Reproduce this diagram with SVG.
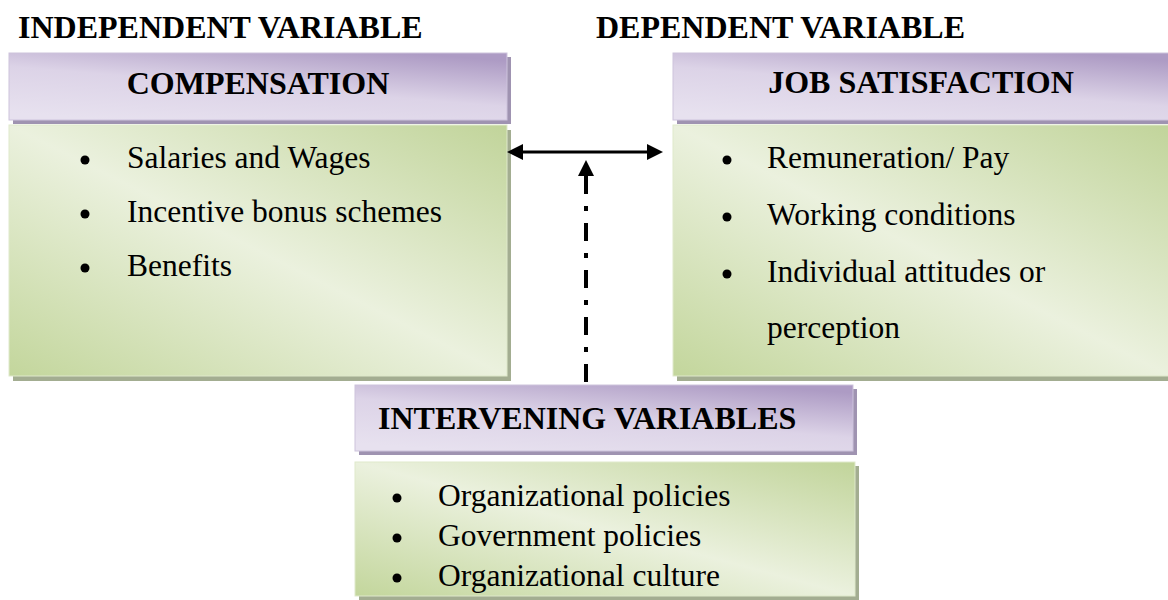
<svg xmlns="http://www.w3.org/2000/svg" width="1168" height="600" viewBox="0 0 1168 600">
  <style>
    .lbl { font-family: "Liberation Serif", "Times New Roman", serif; font-weight: bold; font-size: 32px; fill: #000; }
    .hd { font-family: "Liberation Serif", "Times New Roman", serif; font-weight: bold; font-size: 32px; fill: #000; }
    .it { font-family: "Liberation Serif", "Times New Roman", serif; font-size: 31.5px; fill: #000; }
    .hdr { fill: url(#gHdr); stroke: #cdc3dc; stroke-width: 1; }
    .hdrSh { fill: #9f93b1; }
    .body { fill: url(#gBody); stroke: #dfe9cb; stroke-width: 1; }
    .bodySh { fill: #a3ad91; }
    .dot { fill: #000; }
    .conn { stroke: #000; fill: none; }
  </style>
  <defs>
    <linearGradient id="gHdr" x1="0.2" y1="1" x2="0.8" y2="0">
      <stop offset="0" stop-color="#e7e1ef"/>
      <stop offset="0.5" stop-color="#dcd3e7"/>
      <stop offset="1" stop-color="#ad9bc4"/>
    </linearGradient>
    <linearGradient id="gBody" x1="1" y1="0" x2="0" y2="1">
      <stop offset="0" stop-color="#c1d49a"/>
      <stop offset="0.5" stop-color="#ebf1de"/>
      <stop offset="1" stop-color="#c3d69c"/>
    </linearGradient>
    <!-- arrowhead anchored at its base, tip 16px beyond the path end -->
    <marker id="head" viewBox="0 0 16 16" refX="0" refY="8" markerWidth="16" markerHeight="16" markerUnits="userSpaceOnUse" orient="auto-start-reverse">
      <path d="M0 0 L16 8 L0 16 Z" fill="#000"/>
    </marker>
  </defs>

  <!-- column labels -->
  <text class="lbl" x="18" y="38">INDEPENDENT VARIABLE</text>
  <text class="lbl" x="596" y="38">DEPENDENT VARIABLE</text>

  <!-- independent variable -->
  <g id="compensation">
    <rect class="hdrSh" x="13" y="57" width="498" height="67"/>
    <rect class="hdr" x="9" y="53" width="498" height="67"/>
    <text class="hd" x="258" y="94" text-anchor="middle">COMPENSATION</text>
    <rect class="bodySh" x="13" y="130" width="498" height="251"/>
    <rect class="body" x="9" y="125" width="498" height="251"/>
    <circle class="dot" cx="85" cy="160" r="4.5"/>
    <text class="it" x="127" y="168">Salaries and Wages</text>
    <circle class="dot" cx="85" cy="214" r="4.5"/>
    <text class="it" x="127" y="222">Incentive bonus schemes</text>
    <circle class="dot" cx="85" cy="268" r="4.5"/>
    <text class="it" x="127" y="276">Benefits</text>
  </g>

  <!-- dependent variable -->
  <g id="job-satisfaction">
    <rect class="hdrSh" x="677" y="57" width="498" height="67"/>
    <rect class="hdr" x="673" y="53" width="498" height="67"/>
    <text class="hd" x="921" y="93" text-anchor="middle">JOB SATISFACTION</text>
    <rect class="bodySh" x="677" y="130" width="498" height="251"/>
    <rect class="body" x="673" y="125" width="498" height="251"/>
    <circle class="dot" cx="727" cy="160" r="4.5"/>
    <text class="it" x="767" y="168">Remuneration/ Pay</text>
    <circle class="dot" cx="727" cy="217" r="4.5"/>
    <text class="it" x="767" y="225">Working conditions</text>
    <circle class="dot" cx="727" cy="274" r="4.5"/>
    <text class="it" x="767" y="282">Individual attitudes or</text>
    <text class="it" x="767" y="338">perception</text>
  </g>

  <!-- intervening variables -->
  <g id="intervening">
    <rect class="hdrSh" x="359" y="389" width="498" height="66"/>
    <rect class="hdr" x="355" y="385" width="498" height="66"/>
    <text class="hd" x="378" y="429">INTERVENING VARIABLES</text>
    <rect class="bodySh" x="359" y="466" width="500" height="134"/>
    <rect class="body" x="355" y="462" width="500" height="134"/>
    <circle class="dot" cx="397" cy="498" r="4.5"/>
    <text class="it" x="438" y="506">Organizational policies</text>
    <circle class="dot" cx="397" cy="538" r="4.5"/>
    <text class="it" x="438" y="546">Government policies</text>
    <circle class="dot" cx="397" cy="578" r="4.5"/>
    <text class="it" x="438" y="586">Organizational culture</text>
  </g>

  <!-- connectors -->
  <g id="connectors">
    <path class="conn" d="M523 152 H647" stroke-width="3" marker-start="url(#head)" marker-end="url(#head)"/>
    <path class="conn" d="M586 382 V176" stroke-width="4" stroke-dasharray="18 12 5 12" marker-end="url(#head)"/>
  </g>
</svg>
